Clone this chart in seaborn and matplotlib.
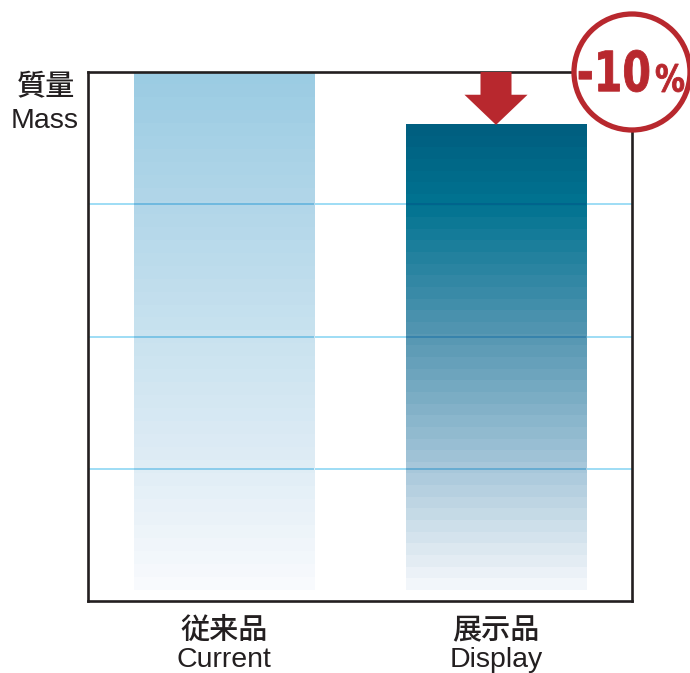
import numpy as np
import pandas as pd
import seaborn as sns
import matplotlib.pyplot as plt
import matplotlib.transforms as mtransforms
from matplotlib.colors import LinearSegmentedColormap, to_rgb
from matplotlib.patches import FancyArrow, Ellipse, PathPatch
from matplotlib.textpath import TextPath
from matplotlib.font_manager import FontProperties

# データ
categories_jp = ['従来品', '展示品']
categories_en = ['Current', 'Display']
mass = [100, 90]
bar_base = 2
grid_values = [25, 50, 75]
reduction_num = '-10'
reduction_unit = '%'

sns.set_theme(style='white')
plt.rcParams['font.family'] = ['Noto Sans CJK JP', 'DejaVu Sans']
latin = ['Liberation Sans', 'DejaVu Sans']

df = pd.DataFrame({'cat': categories_jp, 'mass': mass})

fig = plt.figure(figsize=(6.9, 6.73), dpi=100)
ax = fig.add_axes([88 / 690, 72 / 673, 544 / 690, 529 / 673])

sns.barplot(data=df, x='cat', y='mass', ax=ax, width=0.665, color='white',
            edgecolor='none', saturation=1)

# グラデーション（上→下）
cmaps = [
    LinearSegmentedColormap.from_list('cur', [(0.0, '#9bcce3'), (0.25, '#b2d6e9'),
                                              (0.5, '#c8e2ef'), (0.75, '#deecf5'),
                                              (1.0, '#f8fafd')]),
    LinearSegmentedColormap.from_list('dsp', [(0.0, '#005f80'), (0.16, '#007391'),
                                              (0.45, '#5596b2'), (0.72, '#a0c3d7'),
                                              (1.0, '#f2f6fa')]),
]
grid_color = np.array(to_rgb('#84d3f2'))
grad = np.linspace(0, 1, 40).reshape(-1, 1)
for p, cm, v in zip(ax.patches, cmaps, mass):
    x0 = p.get_x()
    w = p.get_width()
    ax.imshow(grad, cmap=cm, aspect='auto', extent=(x0, x0 + w, bar_base, v),
              origin='upper', zorder=1, interpolation='nearest')
    p.set_visible(False)
    # バーの上のグリッド線（乗算で暗く）
    for gy in grid_values:
        frac = (v - gy) / (v - bar_base)
        c = np.array(cm(frac)[:3]) * grid_color
        ax.plot([x0, x0 + w], [gy, gy], color=c, lw=1.1, zorder=3,
                solid_capstyle='butt')
ax.set_xlim(-0.5, 1.5)
ax.set_ylim(0, 100)

for gy in grid_values:
    ax.axhline(gy, color=grid_color, lw=1.1, zorder=0.5)

for s in ax.spines.values():
    s.set_color('#231f20')
    s.set_linewidth(1.9)
    s.set_visible(True)

ax.set_yticks([])
ax.set_xlabel('')
ax.set_ylabel('')
ax.tick_params(axis='x', length=0, pad=10, labelsize=21, colors='#231f20')
for t in ax.get_xticklabels():
    t.set_fontweight('medium')

trans = mtransforms.blended_transform_factory(ax.transData, ax.transAxes)
for i, lab in enumerate(categories_en):
    ax.text(i, -0.124, lab, transform=trans, ha='center', va='baseline',
            fontsize=20.5, color='#231f20', family=latin)

fig.text(46 / 690, 1 - 87 / 673, '質量', ha='center', va='center',
         fontsize=21, color='#231f20', fontweight='medium')
fig.text(45 / 690, 1 - 121 / 673, 'Mass', ha='center', va='center',
         fontsize=20.5, color='#231f20', family=latin)

# 矢印
red = '#b8282e'
ax.add_patch(FancyArrow(1, 100, 0, mass[1] - 100, width=0.114, head_width=0.232,
                        head_length=5.7, length_includes_head=True, color=red,
                        lw=0, clip_on=False, zorder=5))

# -10% の丸（右上の角が中心）
ax.add_patch(Ellipse((1, 1), 116 / 544, 116 / 529, transform=ax.transAxes,
                     facecolor='white', edgecolor=red, lw=3.8, clip_on=False, zorder=10))

bold = FontProperties(family='DejaVu Sans', weight='bold')


def fit_text(s, x0, x1, y0, y1):
    # 角からのピクセル位置に文字を縦長に収める
    tp = TextPath((0, 0), s, size=50, prop=bold)
    ext = tp.get_extents()
    sx = (x1 - x0) / ext.width
    sy = (y1 - y0) / ext.height
    tr = (mtransforms.Affine2D().translate(-ext.x0, -ext.y0).scale(sx, sy)
          .translate(x0, y0)
          + mtransforms.ScaledTranslation(1, 1, ax.transAxes))
    ax.add_patch(PathPatch(tp, transform=tr, color=red, lw=0.6, clip_on=False, zorder=11))


fit_text(reduction_num, -53, 17, -20, 22)
fit_text(reduction_unit, 24, 52, -20, 8)

fig.savefig('out.png', dpi=100)
